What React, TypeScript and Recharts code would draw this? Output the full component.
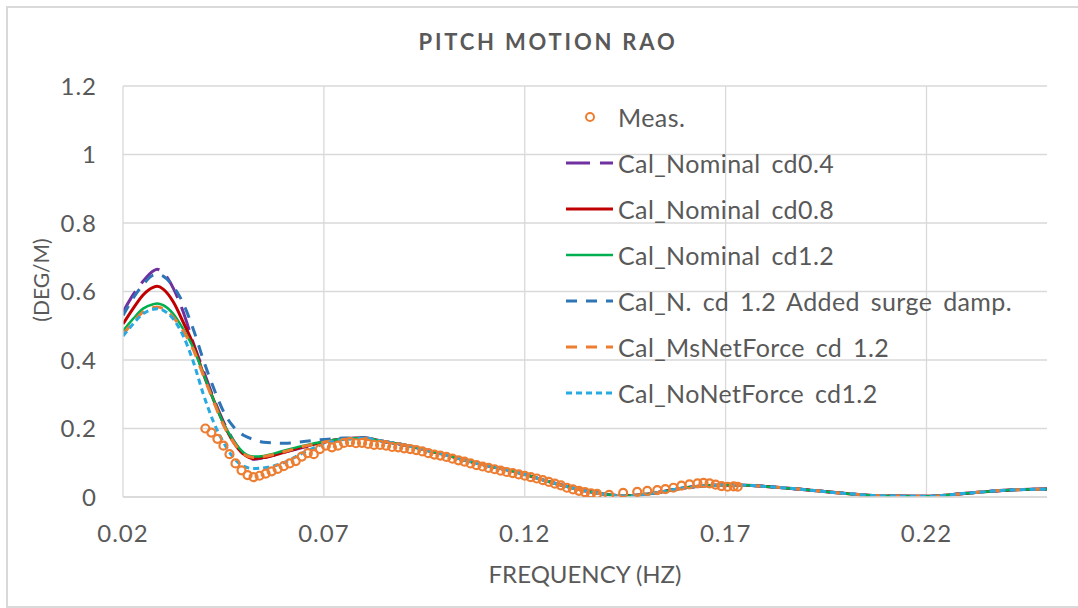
import React from 'react';
import {
  ComposedChart, Line, Scatter, XAxis, YAxis, CartesianGrid, Legend, ReferenceLine,
} from 'recharts';

const FONT = 'Lato, "Open Sans", sans-serif';
const TEXT = '#595959';
const GRID = '#D9D9D9';

// low-frequency part, where the calculated curves differ
const freqHead = [
  0.02, 0.0225, 0.025, 0.0275, 0.0285, 0.03, 0.0325, 0.035, 0.0375, 0.04,
  0.0425, 0.045, 0.0475, 0.05, 0.0525, 0.055, 0.06, 0.065, 0.07, 0.075, 0.08,
];
const cd04Head = [
  0.54, 0.59, 0.63, 0.66, 0.665, 0.655, 0.61, 0.54, 0.45, 0.37,
  0.29, 0.22, 0.165, 0.125, 0.11, 0.115, 0.13, 0.145, 0.16, 0.17, 0.172,
];
const cd08Head = [
  0.505, 0.55, 0.59, 0.612, 0.615, 0.607, 0.57, 0.51, 0.445, 0.36,
  0.285, 0.215, 0.16, 0.125, 0.112, 0.115, 0.13, 0.147, 0.16, 0.17, 0.172,
];
const cd12Head = [
  0.485, 0.52, 0.55, 0.563, 0.565, 0.56, 0.535, 0.49, 0.435, 0.36,
  0.285, 0.215, 0.165, 0.13, 0.118, 0.12, 0.135, 0.15, 0.162, 0.17, 0.172,
];
const surgeHead = [
  0.53, 0.58, 0.62, 0.648, 0.65, 0.645, 0.615, 0.565, 0.49, 0.4,
  0.32, 0.25, 0.205, 0.18, 0.168, 0.16, 0.157, 0.162, 0.168, 0.172, 0.173,
];
const msNetHead = [
  0.475, 0.51, 0.54, 0.553, 0.555, 0.55, 0.525, 0.485, 0.43, 0.355,
  0.28, 0.21, 0.16, 0.125, 0.115, 0.118, 0.132, 0.148, 0.16, 0.168, 0.171,
];
const noNetHead = [
  0.47, 0.505, 0.535, 0.548, 0.55, 0.545, 0.52, 0.47, 0.395, 0.3,
  0.22, 0.16, 0.115, 0.09, 0.083, 0.085, 0.1, 0.13, 0.155, 0.168, 0.171,
];

// above ~0.08 Hz all calculations coincide
const freqTail = [
  0.085, 0.09, 0.095, 0.1, 0.105, 0.11, 0.115, 0.12, 0.125, 0.13, 0.135, 0.14,
  0.145, 0.15, 0.155, 0.16, 0.165, 0.17, 0.175, 0.18, 0.19, 0.2, 0.21, 0.22,
  0.23, 0.24, 0.25,
];
const calTail = [
  0.162, 0.152, 0.138, 0.124, 0.108, 0.093, 0.081, 0.066, 0.048, 0.032, 0.018, 0.008,
  0.003, 0.008, 0.017, 0.027, 0.033, 0.035, 0.034, 0.031, 0.021, 0.01, 0.003, 0.002,
  0.011, 0.02, 0.023,
];

const measFreq = [
  0.0405, 0.042, 0.0435, 0.045, 0.0465, 0.048, 0.0495, 0.051, 0.0525, 0.054,
  0.0555, 0.057, 0.0585, 0.06, 0.0615, 0.063, 0.0645, 0.066, 0.0675, 0.069,
  0.0705, 0.072, 0.0735, 0.075, 0.0765, 0.078, 0.0795, 0.081, 0.0825, 0.084,
  0.0855, 0.087, 0.0885, 0.09, 0.0915, 0.093, 0.0945, 0.096, 0.0975, 0.099,
  0.1005, 0.102, 0.1035, 0.105, 0.1065, 0.108, 0.1095, 0.111, 0.1125, 0.114,
  0.1155, 0.117, 0.1185, 0.12, 0.1215, 0.123, 0.1245, 0.126, 0.1275, 0.129,
  0.1305, 0.132, 0.1335, 0.135, 0.1365, 0.138, 0.141, 0.1445, 0.148, 0.1505,
  0.153, 0.155, 0.157, 0.159, 0.161, 0.163, 0.1645, 0.166, 0.1675, 0.169,
  0.1705, 0.172, 0.173,
];
const measRao = [
  0.2, 0.188, 0.17, 0.15, 0.125, 0.098, 0.078, 0.064, 0.058, 0.062,
  0.068, 0.075, 0.082, 0.09, 0.098, 0.105, 0.118, 0.128, 0.125, 0.14,
  0.15, 0.145, 0.15, 0.158, 0.16, 0.157, 0.158, 0.155, 0.152, 0.152,
  0.15, 0.146, 0.145, 0.142, 0.14, 0.137, 0.133, 0.128, 0.124, 0.121,
  0.117, 0.112, 0.107, 0.103, 0.098, 0.093, 0.089, 0.085, 0.081, 0.077,
  0.073, 0.07, 0.066, 0.062, 0.058, 0.054, 0.049, 0.044, 0.039, 0.034,
  0.027, 0.022, 0.018, 0.014, 0.011, 0.009, 0.006, 0.012, 0.015, 0.018,
  0.02, 0.023, 0.027, 0.033, 0.037, 0.04, 0.041, 0.04, 0.036, 0.032,
  0.03, 0.031, 0.03,
];

const xTicks = [0.02, 0.07, 0.12, 0.17, 0.22];
const yTicks = [0, 0.2, 0.4, 0.6, 0.8, 1, 1.2];

type Pt = { f: number; v: number };

const withTail = (head: number[]): Pt[] => [
  ...freqHead.map((f, i) => ({ f, v: head[i] })),
  ...freqTail.map((f, i) => ({ f, v: calTail[i] })),
];

const measPoints: Pt[] = measFreq.map((f, i) => ({ f, v: measRao[i] }));

const MEAS_COLOR = '#ED7D31';

const CAL_SERIES = [
  { name: 'Cal_Nominal cd0.4', color: '#7030A0', dash: '24 10', width: 3, head: cd04Head },
  { name: 'Cal_Nominal cd0.8', color: '#C00000', dash: undefined, width: 3, head: cd08Head },
  { name: 'Cal_Nominal cd1.2', color: '#00B050', dash: undefined, width: 2.5, head: cd12Head },
  { name: 'Cal_N. cd 1.2 Added surge damp.', color: '#2E75B6', dash: '11 9', width: 3, head: surgeHead },
  { name: 'Cal_MsNetForce cd 1.2', color: '#ED7D31', dash: '11 9', width: 3, head: msNetHead },
  { name: 'Cal_NoNetForce cd1.2', color: '#27A9E1', dash: '6 4', width: 3, head: noNetHead },
];

const ROW_H = 46;

function LegendBox() {
  return (
    <div style={{ fontFamily: FONT, fontSize: 25, letterSpacing: 0.4, wordSpacing: 4, color: TEXT }}>
      <div style={{ display: 'flex', alignItems: 'center', height: ROW_H }}>
        <svg width={47} height={20} style={{ marginRight: 5 }}>
          <circle cx={24} cy={10} r={4} fill="none" stroke={MEAS_COLOR} strokeWidth={2} />
        </svg>
        <span>Meas.</span>
      </div>
      {CAL_SERIES.map((s) => (
        <div key={s.name} style={{ display: 'flex', alignItems: 'center', height: ROW_H }}>
          <svg width={47} height={20} style={{ marginRight: 5 }}>
            <line
              x1={0} y1={10} x2={47} y2={10}
              stroke={s.color} strokeWidth={s.width} strokeDasharray={s.dash}
            />
          </svg>
          <span style={{ whiteSpace: 'nowrap' }}>{s.name}</span>
        </div>
      ))}
    </div>
  );
}

export default function App() {
  const tickStyle = { fill: TEXT, fontSize: 24, fontFamily: FONT, letterSpacing: 1 };
  return (
    <div style={{ position: 'absolute', left: 0, top: 0, width: 1078, height: 608, background: '#fff', overflow: 'hidden' }}>
      <div
        style={{
          position: 'absolute', left: 6, top: 6, width: 1100, height: 598,
          border: `2px solid ${GRID}`, borderRight: 'none',
        }}
      />
      <div
        style={{
          position: 'absolute', left: 0, width: 1096, top: 28, textAlign: 'center',
          fontFamily: FONT, fontWeight: 700, fontSize: 22, letterSpacing: 2.8, color: TEXT,
        }}
      >
        PITCH MOTION RAO
      </div>
      <div
        style={{
          position: 'absolute', left: 40, top: 280, transform: 'translate(-50%, -50%) rotate(-90deg)',
          fontFamily: FONT, fontSize: 21, color: TEXT, whiteSpace: 'nowrap',
        }}
      >
        (DEG/M)
      </div>
      <ComposedChart
        width={1078}
        height={608}
        margin={{ top: 86, right: 31, bottom: 51, left: 43 }}
        style={{ position: 'absolute', left: 0, top: 0 }}
      >
        <CartesianGrid stroke={GRID} strokeWidth={1.3} vertical={false} />
        {xTicks.slice(1).map((t) => (
          <ReferenceLine key={t} x={t} stroke={GRID} strokeWidth={1.3} />
        ))}
        <XAxis
          type="number"
          dataKey="f"
          domain={[0.02, 0.25]}
          ticks={xTicks}
          allowDataOverflow
          height={60}
          tickLine={false}
          axisLine={{ stroke: GRID, strokeWidth: 1.3 }}
          tick={tickStyle}
          tickMargin={22}
          label={{
            value: 'FREQUENCY (HZ)', position: 'bottom', offset: 9,
            fill: TEXT, fontSize: 24, fontFamily: FONT,
          }}
        />
        <YAxis
          type="number"
          dataKey="v"
          domain={[0, 1.2]}
          ticks={yTicks}
          allowDataOverflow
          width={80}
          tickLine={false}
          axisLine={{ stroke: GRID, strokeWidth: 1.3 }}
          tick={tickStyle}
          tickMargin={20}
        />
        <Scatter
          name="Meas."
          data={measPoints}
          dataKey="v"
          isAnimationActive={false}
          shape={(p: any) => (
            <circle cx={p.cx} cy={p.cy} r={4} fill="none" stroke={MEAS_COLOR} strokeWidth={2.2} />
          )}
        />
        {CAL_SERIES.map((s) => (
          <Line
            key={s.name}
            name={s.name}
            data={withTail(s.head)}
            dataKey="v"
            type="monotone"
            stroke={s.color}
            strokeWidth={s.width}
            strokeDasharray={s.dash}
            dot={false}
            activeDot={false}
            isAnimationActive={false}
          />
        ))}
        <Legend
          layout="vertical"
          align="center"
          verticalAlign="middle"
          wrapperStyle={{ left: 566, top: 94, width: 480 }}
          content={() => <LegendBox />}
        />
      </ComposedChart>
    </div>
  );
}
